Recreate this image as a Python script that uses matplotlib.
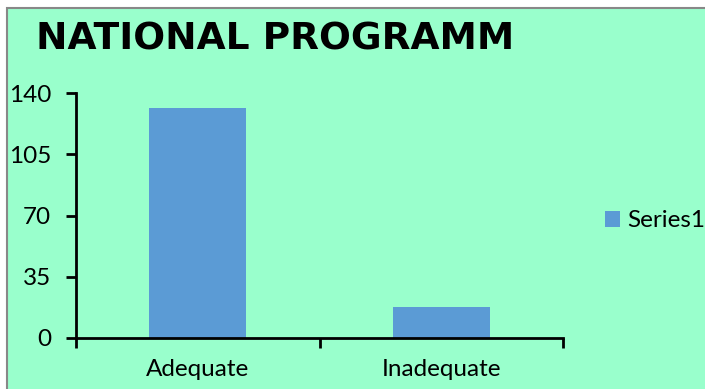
import numpy as np
import matplotlib.pyplot as plt
from matplotlib.patches import Rectangle

categories = ['Adequate', 'Inadequate']
values = [131.5, 18]
series_name = 'Series1'
y_ticks = [0, 35, 70, 105, 140]

bg = '#99FFCC'
bar_color = '#5B9BD5'

fig = plt.figure(figsize=(7.05, 3.89), dpi=100)
fig.patch.set_facecolor('white')
# chart area with the thin gray frame (only top/left edges visible)
fig.patches.append(Rectangle((7 / 705, -1), 2, 2 - 8 / 389, transform=fig.transFigure,
                             facecolor=bg, edgecolor='#888888', linewidth=1.5, zorder=-5))

ax = fig.add_axes([76 / 705, 51 / 389, 487 / 705, 245 / 389])
ax.set_facecolor('none')
x = np.arange(len(categories))
ax.bar(x, values, width=0.4, color=bar_color, label=series_name, zorder=2)

ax.set_xlim(-0.5, len(categories) - 0.5)
ax.set_ylim(0, 140)
ax.set_yticks(y_ticks)
ax.set_xticks(x)
ax.set_xticklabels(categories)
ax.set_xticks(np.arange(-0.5, len(categories)), minor=True)
ax.tick_params(axis='x', which='major', length=0, pad=15)
ax.tick_params(axis='x', which='minor', length=7, width=2, direction='out')
ax.tick_params(axis='y', length=7, width=2, direction='out', pad=11)
for lab in ax.get_xticklabels() + ax.get_yticklabels():
    lab.set_fontfamily('Lato')
    lab.set_fontsize(17.5)

for s in ['top', 'right']:
    ax.spines[s].set_visible(False)
for s in ['left', 'bottom']:
    ax.spines[s].set_linewidth(2)

fig.text(36 / 705, 1 - 40 / 389, 'NATIONAL PROGRAMM', fontsize=27, fontweight='bold',
         fontfamily='DejaVu Sans', va='center', ha='left')

leg = fig.legend(loc='center left', bbox_to_anchor=(605 / 705, 1 - 221 / 389),
                 frameon=False, handlelength=0.6, handleheight=0.6, handletextpad=0.3,
                 borderaxespad=0, borderpad=0, prop={'family': 'Lato', 'size': 17.5})

fig.savefig('out.png', dpi=100, facecolor=fig.get_facecolor())
